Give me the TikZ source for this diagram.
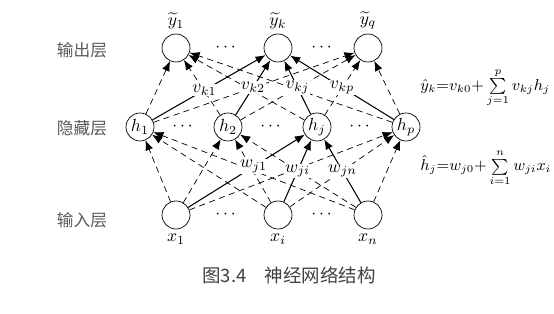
\documentclass[tikz,border=0pt]{standalone}
\usepackage{amsmath}
\usepackage{fontspec}
\newfontfamily\cjk{Noto Sans CJK SC}
\usetikzlibrary{arrows.meta}
\definecolor{LabelGray}{HTML}{5A5A5A}
\definecolor{CaptionGray}{HTML}{404040}
\tikzset{
  neuron/.style={draw, circle, minimum size=5.6mm, inner sep=0pt},
  dashlink/.style={dash pattern=on 3.5pt off 2.5pt, -{Latex[length=2mm, width=1.6mm]}},
  solidlink/.style={semithick, -{Latex[length=2mm, width=1.6mm]}},
  weight/.style={fill=white, inner sep=0.6pt},
  layername/.style={font=\cjk\fontsize{9.5}{11}\selectfont, text=LabelGray},
  formula/.style={anchor=west, inner sep=0pt, font=\small}
}

\begin{document}
\begin{tikzpicture}[x=0.2mm, y=0.2mm]
  \useasboundingbox (0,0) rectangle (554,314);

  % Output layer
  \node[neuron, label={[yshift=-1pt]above:$\widetilde{y}_1$}] (y1) at (176,266) {};
  \node[neuron, label={[yshift=-1pt]above:$\widetilde{y}_k$}] (yk) at (278,266) {};
  \node[neuron, label={[yshift=-1pt]above:$\widetilde{y}_q$}] (yq) at (368,266) {};
  \node at (227,266) {$\cdots$};
  \node at (323,266) {$\cdots$};

  % Hidden layer
  \node[neuron] (h1) at (140,187) {$h_1$};
  \node[neuron] (h2) at (228,187) {$h_2$};
  \node[neuron] (hj) at (317,187) {$h_j$};
  \node[neuron] (hp) at (406,187) {$h_p$};
  \node at (184,187) {$\cdots$};
  \node at (272,187) {$\cdots$};
  \node at (361,187) {$\cdots$};

  % Input layer
  \node[neuron, label={[yshift=1pt]below:$x_1$}] (x1) at (176,99) {};
  \node[neuron, label={[yshift=1pt]below:$x_i$}] (xi) at (278,99) {};
  \node[neuron, label={[yshift=1pt]below:$x_n$}] (xn) at (368,99) {};
  \node at (227,99) {$\cdots$};
  \node at (323,99) {$\cdots$};

  % Dashed connections
  \foreach \s in {h1,h2,hj,hp} {
    \foreach \t in {y1,yq} {
      \draw[dashlink] (\s) -- (\t);
    }
  }
  \foreach \s in {x1,xi,xn} {
    \foreach \t in {h1,h2,hp} {
      \draw[dashlink] (\s) -- (\t);
    }
  }

  % Solid connections with weights
  \draw[solidlink] (h1) -- node[weight, pos=0.46] {$v_{k1}$} (yk);
  \draw[solidlink] (h2) -- node[weight, pos=0.5] {$v_{k2}$} (yk);
  \draw[solidlink] (hj) -- node[weight, pos=0.5] {$v_{kj}$} (yk);
  \draw[solidlink] (hp) -- node[weight, pos=0.5] {$v_{kp}$} (yk);
  \draw[solidlink] (x1) -- node[weight, pos=0.56] {$w_{j1}$} (hj);
  \draw[solidlink] (xi) -- node[weight, pos=0.5] {$w_{ji}$} (hj);
  \draw[solidlink] (xn) -- node[weight, pos=0.5] {$w_{jn}$} (hj);

  % Layer names
  \node[layername] (outname) at (82,264) {输出层};
  \node[layername] (hidname) at (82,186) {隐藏层};
  \node[layername] (inname) at (82,94) {输入层};

  % Formulas
  \node[formula] (outeq) at (420,226) {$\hat{y}_k{=}v_{k0}{+}\sum\limits_{j=1}^{p} v_{kj}h_j$};
  \node[formula] (hideq) at (420,146) {$\hat{h}_j{=}w_{j0}{+}\sum\limits_{i=1}^{n} w_{ji}x_i$};

  % Caption
  \node[font=\cjk\fontsize{10.5}{12}\selectfont, text=CaptionGray] (caption) at (289,39) {图3.4\quad 神经网络结构};
\end{tikzpicture}
\end{document}
